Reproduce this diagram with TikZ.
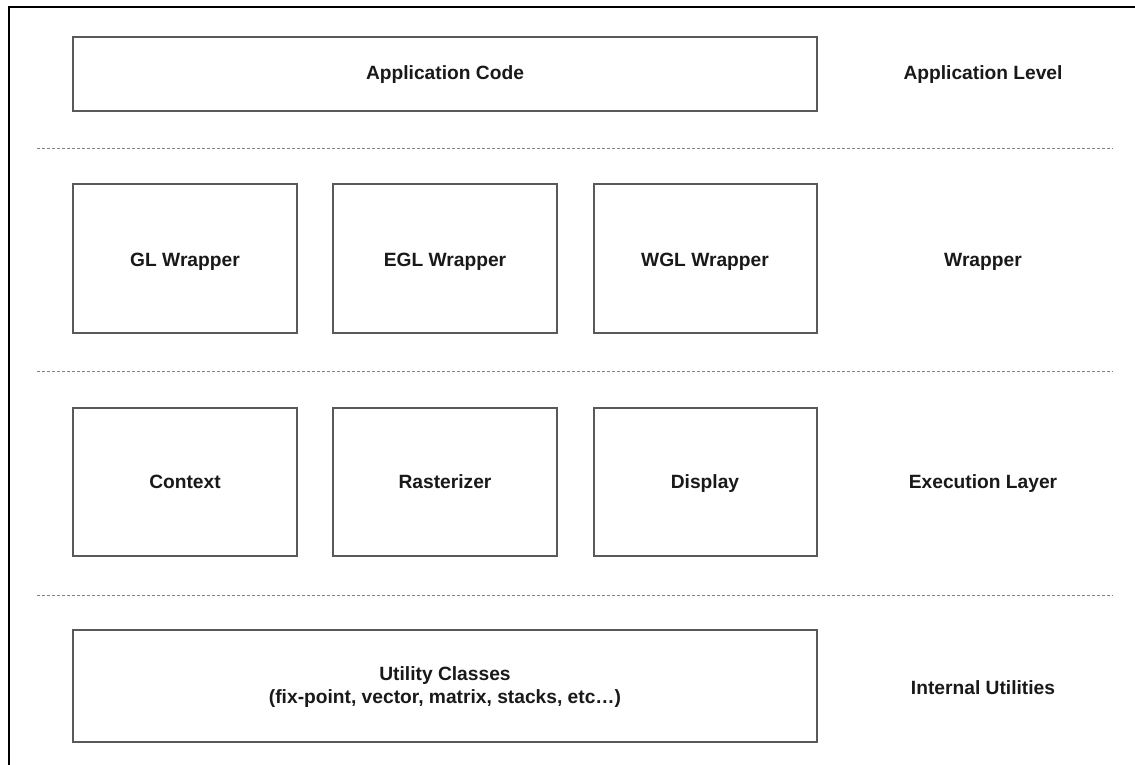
\documentclass[tikz,border=0pt]{standalone}
\usepackage{fontspec}
\setmainfont{Liberation Sans}
\begin{document}
\begin{tikzpicture}[x=1pt,y=-1pt,
  layerbox/.style={draw=black!65, line width=1.6pt, fill=white, inner sep=0pt},
  boxtext/.style={font=\fontsize{19.2}{23}\selectfont\bfseries, align=center, text=black!90,
    text height=14pt, text depth=4pt},
  levellabel/.style={font=\fontsize{19.2}{23}\selectfont\bfseries, text=black!90,
    text height=14pt, text depth=4pt},
  separator/.style={draw=black!50, line width=1pt, dash pattern=on 3pt off 2pt}]
  % canvas
  \useasboundingbox (0,0) rectangle (1135,765);
  \fill[white] (0,0) rectangle (1135,765);
  % outer frame (open toward right and bottom)
  \draw[black, line width=2pt] (8.5,770) -- (8.5,7.5) -- (1140,7.5);

  % Application level
  \draw[layerbox] (73,37) rectangle (817,111);
  \node[boxtext] (app) at (445,75) {Application Code};
  \node[levellabel] (lapp) at (983,75) {Application Level};

  \coordinate (s1a) at (37,149);
  \coordinate (s1b) at (1113,149);
  \draw[separator] (s1a) -- (s1b);

  % Wrapper level
  \draw[layerbox] (73,184) rectangle (297,333);
  \draw[layerbox] (333,184) rectangle (557,333);
  \draw[layerbox] (594,184) rectangle (817,333);
  \node[boxtext] (gl) at (185,261) {GL Wrapper};
  \node[boxtext] (egl) at (445,261) {EGL Wrapper};
  \node[boxtext] (wgl) at (705,261) {WGL Wrapper};
  \node[levellabel] (lwrap) at (983,261) {Wrapper};

  \coordinate (s2a) at (37,371);
  \coordinate (s2b) at (1113,371);
  \draw[separator] (s2a) -- (s2b);

  % Execution layer
  \draw[layerbox] (73,408) rectangle (297,556);
  \draw[layerbox] (333,408) rectangle (557,556);
  \draw[layerbox] (594,408) rectangle (817,556);
  \node[boxtext] (ctx) at (185,483) {Context};
  \node[boxtext] (rast) at (445,483) {Rasterizer};
  \node[boxtext] (disp) at (705,483) {Display};
  \node[levellabel] (lexec) at (983,483) {Execution Layer};

  \coordinate (s3a) at (37,595);
  \coordinate (s3b) at (1113,595);
  \draw[separator] (s3a) -- (s3b);

  % Internal utilities
  \draw[layerbox] (73,630) rectangle (817,742);
  \node[boxtext, text height=, text depth=] (util) at (445,687) {Utility Classes\\(fix-point, vector, matrix, stacks, etc\dots)};
  \node[levellabel] (lutil) at (983,689) {Internal Utilities};
\end{tikzpicture}
\end{document}
